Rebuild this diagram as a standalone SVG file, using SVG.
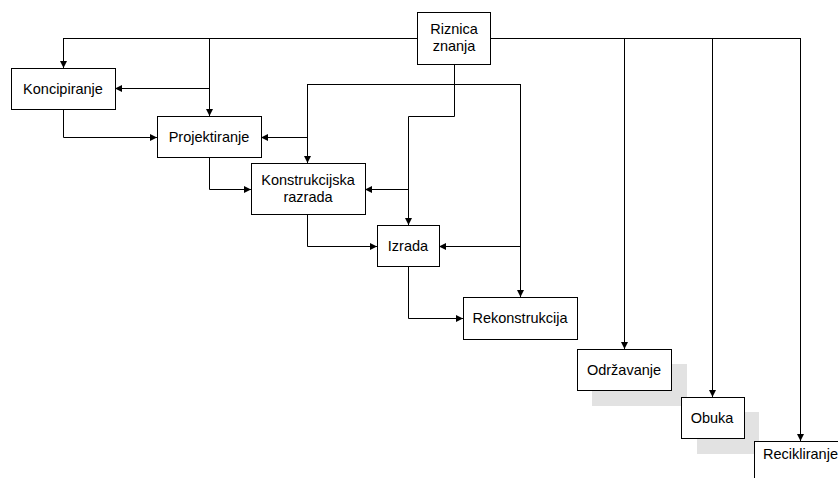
<svg xmlns="http://www.w3.org/2000/svg" width="838" height="478" viewBox="0 0 838 478">
<defs>
<marker id="ah" markerWidth="8" markerHeight="8" refX="7" refY="3.5" orient="auto" markerUnits="userSpaceOnUse">
<path d="M0,0 L7,3.5 L0,7 Z" fill="#000"/>
</marker>
<style>
.box{fill:#fff;stroke:#000;stroke-width:1}
.sh{fill:#e2e2e2;stroke:none}
.t{font-family:"Liberation Sans",Arial,sans-serif;font-size:14.5px;fill:#000;text-anchor:middle}
.c{fill:none;stroke:#000;stroke-width:1}
.a{fill:none;stroke:#000;stroke-width:1;marker-end:url(#ah)}
</style>
</defs>
<rect width="838" height="478" fill="#fff"/>
<g id="connectors">
<path class="c" d="M63,38.5 H800"/>
<path class="a" d="M63.5,38 V68"/>
<path class="a" d="M209.5,38 V116"/>
<path class="a" d="M209,88.5 H115"/>
<path class="a" d="M624.5,38 V349"/>
<path class="a" d="M712.5,38 V397"/>
<path class="a" d="M800.5,38 V441"/>
<path class="a" d="M63.5,109 V137.5 H157"/>
<path class="a" d="M209.5,157 V189.5 H251"/>
<path class="a" d="M307.5,214 V246.5 H377"/>
<path class="a" d="M408.5,267 V318.5 H463"/>
<path class="c" d="M454.5,64 V84.5"/>
<path class="c" d="M307,84.5 H521"/>
<path class="a" d="M307.5,84 V163"/>
<path class="a" d="M520.5,84 V297"/>
<path class="a" d="M454.5,84 V116.5 H408.5 V225"/>
<path class="a" d="M307,137.5 H261"/>
<path class="a" d="M408,189.5 H365"/>
<path class="a" d="M521,246.5 H439"/>
</g>
<g id="riznica">
<rect class="box" x="417.5" y="12.5" width="73" height="52"/>
<text class="t" x="454" y="34">Riznica</text>
<text class="t" x="454" y="51">znanja</text>
</g>
<g id="koncipiranje">
<rect class="box" x="11.5" y="68.5" width="104" height="41"/>
<text class="t" x="63" y="93.5">Koncipiranje</text>
</g>
<g id="projektiranje">
<rect class="box" x="157.5" y="116.5" width="104" height="41"/>
<text class="t" x="209" y="142">Projektiranje</text>
</g>
<g id="konstrukcijska">
<rect class="box" x="251.5" y="163.5" width="114" height="51"/>
<text class="t" x="308" y="185">Konstrukcijska</text>
<text class="t" x="308" y="202">razrada</text>
</g>
<g id="izrada">
<rect class="box" x="377.5" y="225.5" width="62" height="41"/>
<text class="t" x="408" y="251">Izrada</text>
</g>
<g id="rekonstrukcija">
<rect class="box" x="463.5" y="297.5" width="114" height="42"/>
<text class="t" x="520" y="323">Rekonstrukcija</text>
</g>
<g id="odrzavanje">
<rect class="sh" x="592" y="364" width="95" height="42"/>
<rect class="box" x="577.5" y="349.5" width="94" height="41"/>
<text class="t" x="624" y="375">Održavanje</text>
</g>
<g id="obuka">
<rect class="sh" x="697" y="412" width="62" height="42"/>
<rect class="box" x="681.5" y="397.5" width="63" height="41"/>
<text class="t" x="712" y="423">Obuka</text>
</g>
<g id="recikliranje">
<rect class="box" x="754.5" y="441.5" width="100" height="50"/>
<text class="t" x="763" y="459" style="text-anchor:start">Recikliranje</text>
</g>
</svg>
